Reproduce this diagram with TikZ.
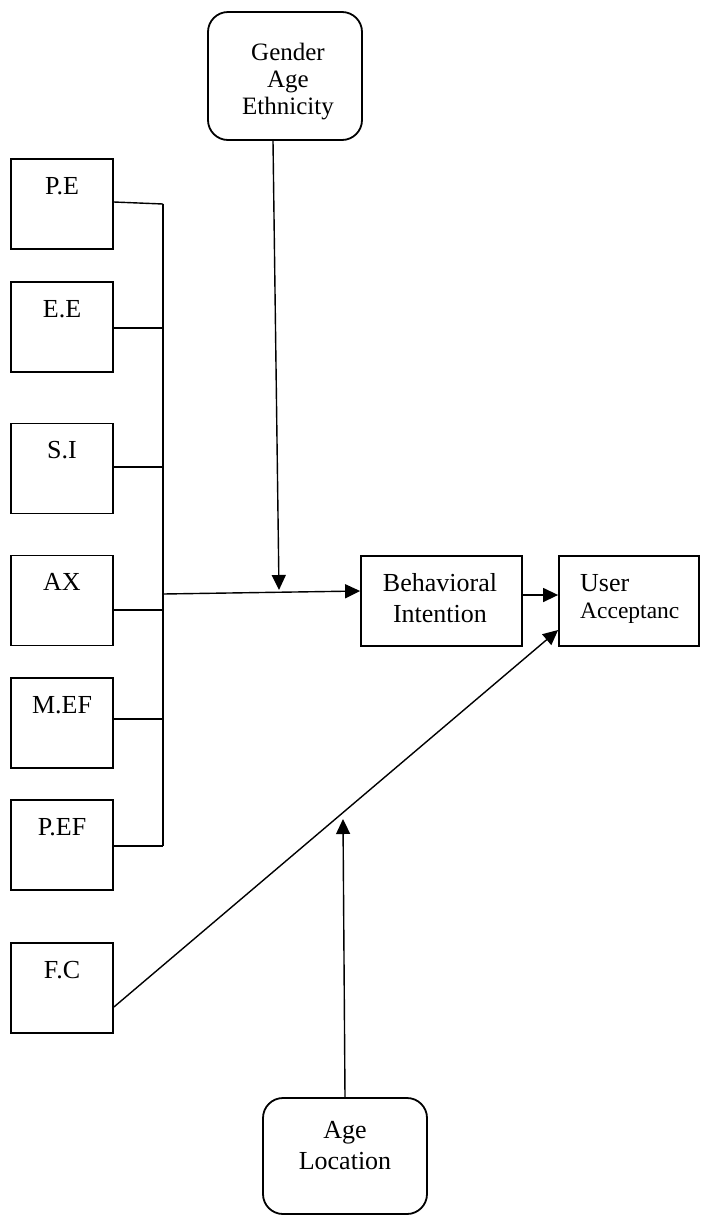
\documentclass[tikz,border=0pt]{standalone}
\usepackage{fontspec}
\setmainfont{Liberation Serif}
\usetikzlibrary{arrows.meta}
\begin{document}
\begin{tikzpicture}[x=1pt,y=-1pt,
  box/.style={draw,line width=1.8pt,minimum width=102pt,minimum height=90pt,inner sep=0pt},
  rbox/.style={draw,line width=1.8pt,rounded corners=20pt,inner sep=0pt},
  lbl/.style={font=\fontsize{26}{31}\selectfont,anchor=base,inner sep=0pt},
  con/.style={line width=1.4pt},
  arr/.style={con,-{Triangle[length=15pt,width=14pt]}}]
\useasboundingbox (0,0) rectangle (701,1216);

% left factor boxes
\node[box] (pe) at (62,204) {};
\node[lbl] (pe-t) at ([yshift=-36pt]pe.north) {P.E};
\node[box] (ee) at (62,327) {};
\node[lbl] (ee-t) at ([yshift=-36pt]ee.north) {E.E};
\node[box] (si) at (62,468.5) {};
\node[lbl] (si-t) at ([yshift=-36pt]si.north) {S.I};
\node[box] (ax) at (62,600.5) {};
\node[lbl] (ax-t) at ([yshift=-36pt]ax.north) {AX};
\node[box] (mef) at (62,723) {};
\node[lbl] (mef-t) at ([yshift=-36pt]mef.north) {M.EF};
\node[box] (pef) at (62,845) {};
\node[lbl] (pef-t) at ([yshift=-36pt]pef.north) {P.EF};
\node[box] (fc) at (62,988) {};
\node[lbl] (fc-t) at ([yshift=-36pt]fc.north) {F.C};

% bus
\coordinate (b1) at (163,204);
\coordinate (b2) at (163,328);
\coordinate (b3) at (163,467);
\coordinate (b4) at (163,610);
\coordinate (b5) at (163,719);
\coordinate (b6) at (163,846);
\coordinate (bi) at (163,594);
\draw[con] ([yshift=2pt]pe.east) -- (b1);
\draw[con] (ee.east |- b2) -- (b2);
\draw[con] (si.east |- b3) -- (b3);
\draw[con] (ax.east |- b4) -- (b4);
\draw[con] (mef.east |- b5) -- (b5);
\draw[con] (pef.east |- b6) -- (b6);
\draw[con] (b1) -- (b6);

% behavioral intention
\node[box,minimum width=161pt] (bh) at (441.5,601) {};
\node[lbl] (bh-t1) at (440,591) {Behavioral};
\node[lbl] (bh-t2) at (440,622) {Intention};

% user acceptance
\node[box,minimum width=140pt] (ua) at (629,601) {};
\node[lbl,anchor=base west] (ua-t1) at (580,591) {User};
\node[lbl,anchor=base west,font=\fontsize{23.5}{28}\selectfont] (ua-t2) at (580,618) {Acceptanc};

% moderators top
\node[rbox,minimum width=154pt,minimum height=128pt] (gen) at (285,76) {};
\node[lbl,font=\fontsize{25}{28}\selectfont] (gen-t1) at (288,60) {Gender};
\node[lbl,font=\fontsize{25}{28}\selectfont] (gen-t2) at (288,87) {Age};
\node[lbl,font=\fontsize{25}{28}\selectfont] (gen-t3) at (288,114) {Ethnicity};

% moderators bottom
\node[rbox,minimum width=164pt,minimum height=116pt] (al) at (345,1156) {};
\node[lbl] (al-t1) at (345,1138) {Age};
\node[lbl] (al-t2) at (345,1169) {Location};

% arrows
\coordinate (gt) at (279,590);
\coordinate (at) at (343,819);
\draw[arr] ([xshift=-12pt]gen.south) -- (gt);
\draw[arr] (bi) -- ([yshift=10pt]bh.west);
\draw[arr] ([yshift=6pt]bh.east) -- ([yshift=6pt]ua.west);
\draw[arr] ([yshift=-19pt]fc.east) -- ([yshift=-29pt]ua.west);
\draw[arr] (al.north) -- (at);
\end{tikzpicture}
\end{document}
